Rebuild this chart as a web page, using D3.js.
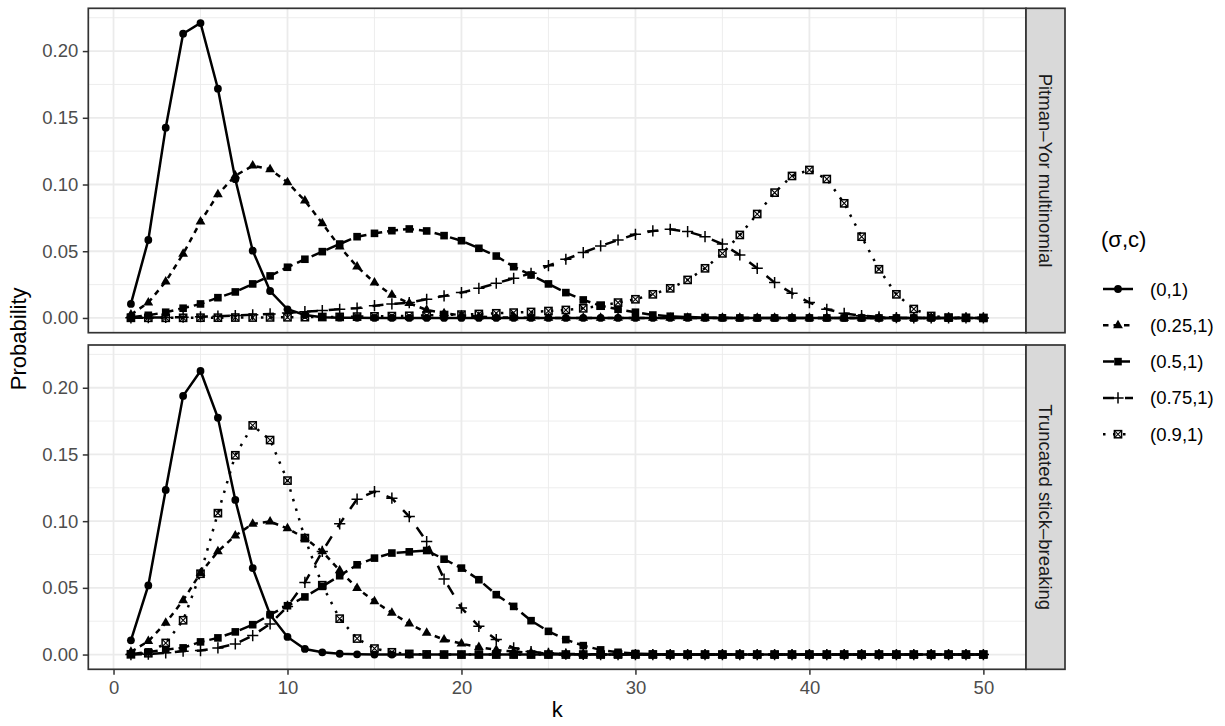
<!DOCTYPE html>
<html><head><meta charset="utf-8">
<script src="https://cdn.jsdelivr.net/npm/d3@7"></script>
<style>body{margin:0;background:#fff} svg{display:block;font-family:"Liberation Sans",Arial,Helvetica,sans-serif}</style>
</head><body><svg id="c" width="1225" height="726"></svg>
<script>
const ks = d3.range(1, 51);
const seriesLabels = ["(0,1)", "(0.25,1)", "(0.5,1)", "(0.75,1)", "(0.9,1)"];
const panelLabels = ["Pitman\u2013Yor multinomial", "Truncated stick\u2013breaking"];
const xTicks = [0, 10, 20, 30, 40, 50];
const xMinor = [5, 15, 25, 35, 45];
const yTicks = [0, 0.05, 0.10, 0.15, 0.20];
const yMinor = [0.025, 0.075, 0.125, 0.175, 0.225];

// Pitman-Yor multinomial
const py_0 = [0.0105,0.0584,0.1426,0.2130,0.2210,0.1718,0.1040,0.0504,0.0202,0.0065,
  0.0022,0.0006,0.0002,0.0001,0,0,0,0,0,0,
  0,0,0,0,0,0,0,0,0,0,
  0,0,0,0,0,0,0,0,0,0,
  0,0,0,0,0,0,0,0,0,0];
const py_025 = [0.0025,0.0115,0.0272,0.0480,0.0722,0.0926,0.1066,0.1141,0.1114,0.1016,
  0.0879,0.0709,0.0534,0.0384,0.0265,0.0172,0.0110,0.0060,0.0035,0.0020,
  0.0010,0.0005,0.0003,0.0001,0,0,0,0,0,0,
  0,0,0,0,0,0,0,0,0,0,
  0,0,0,0,0,0,0,0,0,0];
const py_05 = [0.0005,0.0020,0.0043,0.0073,0.0105,0.0152,0.0195,0.0255,0.0315,0.0380,
  0.0440,0.0497,0.0554,0.0609,0.0634,0.0654,0.0667,0.0652,0.0617,0.0579,
  0.0522,0.0464,0.0384,0.0322,0.0255,0.0190,0.0135,0.0092,0.0065,0.0043,
  0.0022,0.0013,0.0007,0.0003,0.0001,0,0,0,0,0,
  0,0,0,0,0,0,0,0,0,0];
const py_075 = [0.0001,0.0002,0.0004,0.0006,0.0009,0.0013,0.0018,0.0024,0.0030,0.0038,
  0.0047,0.0055,0.0065,0.0073,0.0092,0.0105,0.0115,0.0140,0.0165,0.0190,
  0.0222,0.0260,0.0297,0.0335,0.0392,0.0440,0.0490,0.0540,0.0584,0.0627,
  0.0652,0.0664,0.0647,0.0609,0.0554,0.0472,0.0372,0.0265,0.0185,0.0115,
  0.0065,0.0035,0.0017,0.0008,0.0003,0.0001,0,0,0,0];
const py_09 = [0.0001,0.0001,0.0001,0.0001,0.0002,0.0002,0.0003,0.0003,0.0004,0.0005,
  0.0006,0.0007,0.0008,0.0010,0.0012,0.0014,0.0016,0.0019,0.0022,0.0025,
  0.0030,0.0035,0.0040,0.0045,0.0052,0.0060,0.0072,0.0092,0.0115,0.0140,
  0.0177,0.0222,0.0285,0.0372,0.0484,0.0622,0.0779,0.0939,0.1064,0.1109,
  0.1041,0.0859,0.0609,0.0365,0.0177,0.0067,0.0015,0.0003,0.0001,0];

// Truncated stick-breaking
const tsb_0 = [0.0107,0.0518,0.1234,0.1939,0.2126,0.1775,0.1159,0.0648,0.0299,0.0132,
  0.0042,0.0017,0.0006,0.0002,0,0,0,0,0,0,
  0,0,0,0,0,0,0,0,0,0,
  0,0,0,0,0,0,0,0,0,0,
  0,0,0,0,0,0,0,0,0,0];
const tsb_025 = [0.0020,0.0100,0.0237,0.0406,0.0611,0.0773,0.0892,0.0980,0.0997,0.0945,
  0.0873,0.0773,0.0630,0.0498,0.0399,0.0312,0.0232,0.0162,0.0112,0.0082,
  0.0055,0.0035,0.0022,0.0014,0.0008,0.0005,0.0003,0.0001,0,0,
  0,0,0,0,0,0,0,0,0,0,
  0,0,0,0,0,0,0,0,0,0];
const tsb_05 = [0.0003,0.0020,0.0037,0.0050,0.0095,0.0125,0.0170,0.0224,0.0299,0.0366,
  0.0432,0.0511,0.0591,0.0673,0.0723,0.0761,0.0770,0.0780,0.0715,0.0648,
  0.0561,0.0449,0.0361,0.0254,0.0174,0.0112,0.0067,0.0035,0.0017,0.0008,
  0.0003,0.0001,0,0,0,0,0,0,0,0,
  0,0,0,0,0,0,0,0,0,0];
const tsb_075 = [0,0.0003,0.0013,0.0025,0.0030,0.0050,0.0080,0.0142,0.0230,0.0361,
  0.0541,0.0773,0.0980,0.1165,0.1222,0.1172,0.1034,0.0847,0.0566,0.0349,
  0.0212,0.0112,0.0050,0.0022,0.0009,0.0003,0.0001,0,0,0,
  0,0,0,0,0,0,0,0,0,0,
  0,0,0,0,0,0,0,0,0,0];
const tsb_09 = [0.0002,0.0010,0.0087,0.0257,0.0606,0.1060,0.1494,0.1718,0.1608,0.1304,
  0.0873,0.0520,0.0269,0.0120,0.0045,0.0017,0.0005,0.0001,0,0,
  0,0,0,0,0,0,0,0,0,0,
  0,0,0,0,0,0,0,0,0,0,
  0,0,0,0,0,0,0,0,0,0];

const panelsData = [
  [py_0, py_025, py_05, py_075, py_09],
  [tsb_0, tsb_025, tsb_05, tsb_075, tsb_09]
];

const dashes = [null, "5.5,5", "11,5", "11,11", "2.5,7.5"];
const shapes = ["circle", "triangle", "square", "plus", "xsquare"];

const svg = d3.select("#c");
const L = 88.3, R = 1026, stripW = 39;
const panelY = [[8.3, 332.7], [345, 669.3]];
const FS_TICK = "18.5px", FS_TITLE = "22px";

const allVals = panelsData.flat(2);
const yMax = d3.max(allVals), yMin = 0;
const yPad = (yMax - yMin) * 0.05;
const xPad = (50 - 1) * 0.05;
const x = d3.scaleLinear().domain([1 - xPad, 50 + xPad]).range([L, R]);

const gridCol = "#EBEBEB";
const LW = 2.5;

function drawShape(g, shape, cx, cy) {
  if (shape === "circle") {
    g.append("circle").attr("cx", cx).attr("cy", cy).attr("r", 3.9).attr("fill", "#000");
  } else if (shape === "triangle") {
    const s = 9.8, h = s * Math.sqrt(3) / 2;
    g.append("path").attr("d", `M${cx},${cy - h * 2 / 3}L${cx + s / 2},${cy + h / 3}L${cx - s / 2},${cy + h / 3}Z`).attr("fill", "#000");
  } else if (shape === "square") {
    g.append("rect").attr("x", cx - 3.8).attr("y", cy - 3.8).attr("width", 7.6).attr("height", 7.6).attr("fill", "#000");
  } else if (shape === "plus") {
    g.append("path").attr("d", `M${cx - 5.6},${cy}H${cx + 5.6}M${cx},${cy - 5.6}V${cy + 5.6}`)
      .attr("stroke", "#000").attr("stroke-width", 1.5).attr("fill", "none");
  } else if (shape === "xsquare") {
    const h = 3.6;
    g.append("rect").attr("x", cx - h).attr("y", cy - h).attr("width", 2 * h).attr("height", 2 * h)
      .attr("fill", "none").attr("stroke", "#000").attr("stroke-width", 1.5);
    g.append("path").attr("d", `M${cx - h},${cy - h}L${cx + h},${cy + h}M${cx + h},${cy - h}L${cx - h},${cy + h}`)
      .attr("stroke", "#000").attr("stroke-width", 1.1).attr("fill", "none");
  }
}

panelsData.forEach((series, pi) => {
  const [top, bot] = panelY[pi];
  const y = d3.scaleLinear().domain([yMin - yPad, yMax + yPad]).range([bot, top]);
  const g = svg.append("g");
  g.append("rect").attr("x", L).attr("y", top).attr("width", R - L).attr("height", bot - top).attr("fill", "#fff");
  g.selectAll(".xm").data(xMinor).join("line").attr("x1", d => x(d)).attr("x2", d => x(d))
    .attr("y1", top).attr("y2", bot).attr("stroke", gridCol).attr("stroke-width", 0.9);
  g.selectAll(".ym").data(yMinor.filter(v => v < yMax + yPad)).join("line").attr("y1", d => y(d)).attr("y2", d => y(d))
    .attr("x1", L).attr("x2", R).attr("stroke", gridCol).attr("stroke-width", 0.9);
  g.selectAll(".xM").data(xTicks).join("line").attr("x1", d => x(d)).attr("x2", d => x(d))
    .attr("y1", top).attr("y2", bot).attr("stroke", gridCol).attr("stroke-width", 1.8);
  g.selectAll(".yM").data(yTicks).join("line").attr("y1", d => y(d)).attr("y2", d => y(d))
    .attr("x1", L).attr("x2", R).attr("stroke", gridCol).attr("stroke-width", 1.8);

  const clip = "clip" + pi;
  svg.append("clipPath").attr("id", clip).append("rect").attr("x", L).attr("y", top).attr("width", R - L).attr("height", bot - top);
  const dg = g.append("g").attr("clip-path", `url(#${clip})`);
  const line = d3.line().x((d, i) => x(ks[i])).y(d => y(d));
  series.forEach((vals, si) => {
    dg.append("path").attr("d", line(vals)).attr("fill", "none").attr("stroke", "#000")
      .attr("stroke-width", LW).attr("stroke-dasharray", dashes[si]);
  });
  series.forEach((vals, si) => {
    vals.forEach((v, i) => drawShape(dg, shapes[si], x(ks[i]), y(v)));
  });

  g.append("rect").attr("x", L).attr("y", top).attr("width", R - L).attr("height", bot - top)
    .attr("fill", "none").attr("stroke", "#333333").attr("stroke-width", 1.7);

  const ya = d3.axisLeft(y).tickValues(yTicks).tickFormat(d3.format(".2f")).tickSize(5.5).tickPadding(4.5);
  const yg = svg.append("g").attr("transform", `translate(${L},0)`).call(ya);
  yg.select(".domain").remove();
  yg.selectAll(".tick line").attr("stroke", "#333333").attr("stroke-width", 1.5);
  yg.selectAll(".tick text").attr("fill", "#4D4D4D").style("font-size", FS_TICK).style("font-family", "Liberation Sans, Arial, sans-serif");

  svg.append("rect").attr("x", R).attr("y", top).attr("width", stripW).attr("height", bot - top)
    .attr("fill", "#D9D9D9").attr("stroke", "#333333").attr("stroke-width", 1.7);
  svg.append("text").attr("transform", `translate(${R + stripW / 2},${(top + bot) / 2}) rotate(90)`)
    .attr("text-anchor", "middle").attr("dominant-baseline", "central")
    .attr("fill", "#1A1A1A").style("font-size", FS_TICK).text(panelLabels[pi]);

  if (pi === 1) {
    const xa = d3.axisBottom(x).tickValues(xTicks).tickSize(5.5).tickPadding(6);
    const xg = svg.append("g").attr("transform", `translate(0,${bot})`).call(xa);
    xg.select(".domain").remove();
    xg.selectAll(".tick line").attr("stroke", "#333333").attr("stroke-width", 1.5);
    xg.selectAll(".tick text").attr("fill", "#4D4D4D").style("font-size", FS_TICK).style("font-family", "Liberation Sans, Arial, sans-serif");
  }
});

svg.append("text").attr("transform", `translate(18,${(panelY[0][0] + panelY[1][1]) / 2}) rotate(-90)`)
  .attr("text-anchor", "middle").attr("dominant-baseline", "central").style("font-size", FS_TITLE).attr("fill", "#000").text("Probability");
svg.append("text").attr("x", (L + R) / 2).attr("y", 717)
  .attr("text-anchor", "middle").style("font-size", FS_TITLE).attr("fill", "#000").text("k");

const lg = svg.append("g");
lg.append("text").attr("x", 1101).attr("y", 239).attr("dominant-baseline", "central")
  .style("font-size", FS_TITLE).attr("fill", "#000").text("(\u03C3,c)");
seriesLabels.forEach((lab, i) => {
  const cy = 289 + i * 36.3;
  const kg = lg.append("g");
  kg.append("line").attr("x1", 1103).attr("x2", 1133).attr("y1", cy).attr("y2", cy)
    .attr("stroke", "#000").attr("stroke-width", LW).attr("stroke-dasharray", dashes[i]);
  drawShape(kg, shapes[i], 1118, cy);
  lg.append("text").attr("x", 1150).attr("y", cy).attr("dominant-baseline", "central")
    .style("font-size", FS_TICK).attr("fill", "#000").text(lab);
});
</script></body></html>
